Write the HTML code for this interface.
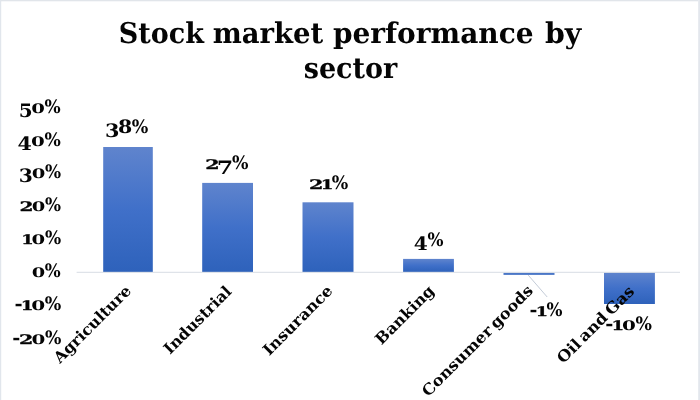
<!DOCTYPE html>
<html lang="en">
<head>
<meta charset="utf-8">
<title>Stock market performance by sector</title>
<style>
  html, body { margin: 0; padding: 0; background: #ffffff; }
  body { width: 700px; height: 400px; overflow: hidden; position: relative; }
  svg { position: absolute; left: 0; top: 0; display: block; }
  text { font-family: "DejaVu Serif", "Liberation Serif", serif; font-weight: bold; fill: #050505; text-rendering: geometricPrecision; }
  .title { font-size: 28.5px; }
  .num { font-size: 18.5px; }
  .os { stroke: #050505; stroke-width: 0.3px; stroke-linejoin: round; }
  .cat { font-size: 15.5px; word-spacing: -2px; }
</style>
</head>
<body>
<svg width="700" height="400" viewBox="0 0 700 400">
  <defs>
    <linearGradient id="bar" x1="0" y1="0" x2="0" y2="1">
      <stop offset="0" stop-color="#5f84cd"/>
      <stop offset="0.5" stop-color="#4070c9"/>
      <stop offset="1" stop-color="#2e62bb"/>
    </linearGradient>
  </defs>
  <rect x="0" y="0" width="700" height="400" fill="#ffffff"/>
  <!-- chart frame -->
  <rect x="0" y="0" width="698.2" height="1.3" fill="#e1e5ea"/>
  <rect x="0" y="0" width="1.2" height="400" fill="#e1e6ec"/>
  <rect x="698.2" y="0" width="1.8" height="400" fill="#e3e7ed"/>

  <!-- title -->
  <text class="title" y="43.3"><tspan id="t_stock" x="118.81" textLength="85.15" lengthAdjust="spacingAndGlyphs">Stock</tspan> <tspan id="t_market" x="212.65" textLength="110.59" lengthAdjust="spacingAndGlyphs">market</tspan> <tspan id="t_perf" x="332.9" textLength="200.7" lengthAdjust="spacingAndGlyphs">performance</tspan> <tspan id="t_by" x="544.93" textLength="36.36" lengthAdjust="spacingAndGlyphs">by</tspan></text>
  <text class="title" y="77.5"><tspan id="t_sector" x="303.76" textLength="93.49" lengthAdjust="spacingAndGlyphs">sector</tspan></text>

  <!-- bars -->
  <rect x="103.2" y="147" width="49.6" height="125" fill="url(#bar)"/>
  <rect x="202.2" y="182.9" width="50.8" height="89.1" fill="url(#bar)"/>
  <rect x="302.5" y="202.3" width="51" height="69.7" fill="url(#bar)"/>
  <rect x="403.1" y="258.9" width="50.8" height="13.1" fill="url(#bar)"/>
  <rect x="503.5" y="272.8" width="51" height="2.1" fill="#4b77c7"/>
  <rect x="604" y="272.6" width="50.9" height="31.4" fill="url(#bar)"/>

  <!-- zero axis line -->
  <rect x="76.6" y="271.8" width="603.4" height="1" fill="#d8dce4"/>

  <!-- leader line for -1% -->
  <line x1="528.2" y1="275.1" x2="547.2" y2="297" stroke="#bcc5d3" stroke-width="0.9"/>

  <!-- value axis labels -->
  <text id="y50" class="num" transform="translate(18.72,112.8) scale(0.9856,1)"><tspan dy="4.29" textLength="14.1" lengthAdjust="spacingAndGlyphs">5</tspan><tspan dx="-1.48" dy="-4.29" font-size="13.23" textLength="13.87" lengthAdjust="spacingAndGlyphs">0</tspan><tspan dx="-0.35" textLength="16.43" lengthAdjust="spacingAndGlyphs">%</tspan></text>
  <text id="y40" class="num" transform="translate(17.55,145.6) scale(0.9944,1)"><tspan dy="4.29" textLength="14.4" lengthAdjust="spacingAndGlyphs">4</tspan><tspan dx="-0.78" dy="-4.29" font-size="13.23" textLength="13.87" lengthAdjust="spacingAndGlyphs">0</tspan><tspan dx="-0.35" textLength="16.43" lengthAdjust="spacingAndGlyphs">%</tspan></text>
  <text id="y30" class="num" transform="translate(18.78,177.7) scale(0.9808,1)"><tspan dy="4.29" textLength="14.37" lengthAdjust="spacingAndGlyphs">3</tspan><tspan dx="-1.26" dy="-4.29" font-size="13.23" textLength="13.87" lengthAdjust="spacingAndGlyphs">0</tspan><tspan dx="-0.35" textLength="16.43" lengthAdjust="spacingAndGlyphs">%</tspan></text>
  <text id="y20" class="num" transform="translate(19.48,210.6) scale(0.9769,1)"><tspan font-size="13.23" class="os" textLength="14.33" lengthAdjust="spacingAndGlyphs">2</tspan><tspan dx="-1.79" font-size="13.23" textLength="13.87" lengthAdjust="spacingAndGlyphs">0</tspan><tspan dx="-0.35" textLength="16.43" lengthAdjust="spacingAndGlyphs">%</tspan></text>
  <text id="y10" class="num" transform="translate(21.27,244) scale(0.9858,1)"><tspan font-size="13.23" class="os" textLength="12.63" lengthAdjust="spacingAndGlyphs">1</tspan><tspan dx="-2.15" font-size="13.23" textLength="13.87" lengthAdjust="spacingAndGlyphs">0</tspan><tspan dx="-0.35" textLength="16.43" lengthAdjust="spacingAndGlyphs">%</tspan></text>
  <text id="y0" class="num" transform="translate(31.71,276.9) scale(0.9709,1)"><tspan font-size="13.23" textLength="13.87" lengthAdjust="spacingAndGlyphs">0</tspan><tspan dx="-0.35" textLength="16.43" lengthAdjust="spacingAndGlyphs">%</tspan></text>
  <text id="ym10" class="num" transform="translate(14.44,309.9) scale(1.0061,1)"><tspan textLength="8.11" lengthAdjust="spacingAndGlyphs">-</tspan><tspan dx="-1.87" font-size="13.23" class="os" textLength="12.63" lengthAdjust="spacingAndGlyphs">1</tspan><tspan dx="-2.15" font-size="13.23" textLength="13.87" lengthAdjust="spacingAndGlyphs">0</tspan><tspan dx="-0.35" textLength="16.43" lengthAdjust="spacingAndGlyphs">%</tspan></text>
  <text id="ym20" class="num" transform="translate(12.25,343.9) scale(0.9986,1)"><tspan textLength="8.11" lengthAdjust="spacingAndGlyphs">-</tspan><tspan dx="-1.44" font-size="13.23" class="os" textLength="14.33" lengthAdjust="spacingAndGlyphs">2</tspan><tspan dx="-1.79" font-size="13.23" textLength="13.87" lengthAdjust="spacingAndGlyphs">0</tspan><tspan dx="-0.35" textLength="16.43" lengthAdjust="spacingAndGlyphs">%</tspan></text>
  <!-- data labels -->
  <text id="d38" class="num" transform="translate(105.03,132.8) scale(1.0074,1)"><tspan dy="4.29" textLength="14.37" lengthAdjust="spacingAndGlyphs">3</tspan><tspan dx="-1.38" dy="-4.29" textLength="14.16" lengthAdjust="spacingAndGlyphs">8</tspan><tspan dx="-0.51" textLength="16.43" lengthAdjust="spacingAndGlyphs">%</tspan></text>
  <text id="d27" class="num" transform="translate(205.14,169.4) scale(1.0039,1)"><tspan font-size="13.23" class="os" textLength="14.33" lengthAdjust="spacingAndGlyphs">2</tspan><tspan dx="-2.72" dy="4.29" textLength="16.42" lengthAdjust="spacingAndGlyphs">7</tspan><tspan dx="-1.37" dy="-4.29" textLength="16.43" lengthAdjust="spacingAndGlyphs">%</tspan></text>
  <text id="d21" class="num" transform="translate(308.92,189) scale(1.0054,1)"><tspan font-size="13.23" class="os" textLength="14.33" lengthAdjust="spacingAndGlyphs">2</tspan><tspan dx="-2.67" font-size="13.23" class="os" textLength="12.63" lengthAdjust="spacingAndGlyphs">1</tspan><tspan dx="-1.63" textLength="16.43" lengthAdjust="spacingAndGlyphs">%</tspan></text>
  <text id="d4" class="num" transform="translate(413.72,245.8) scale(0.9744,1)"><tspan dy="4.29" textLength="14.4" lengthAdjust="spacingAndGlyphs">4</tspan><tspan dx="-0.26" dy="-4.29" textLength="16.43" lengthAdjust="spacingAndGlyphs">%</tspan></text>
  <text id="dm1" class="num" transform="translate(529.61,315.7) scale(0.9741,1)"><tspan textLength="8.11" lengthAdjust="spacingAndGlyphs">-</tspan><tspan dx="-1.87" font-size="13.23" class="os" textLength="12.63" lengthAdjust="spacingAndGlyphs">1</tspan><tspan dx="-1.63" textLength="16.43" lengthAdjust="spacingAndGlyphs">%</tspan></text>
  <text id="dm10" class="num" transform="translate(605.14,329.5) scale(1.0015,1)"><tspan textLength="8.11" lengthAdjust="spacingAndGlyphs">-</tspan><tspan dx="-1.87" font-size="13.23" class="os" textLength="12.63" lengthAdjust="spacingAndGlyphs">1</tspan><tspan dx="-2.15" font-size="13.23" textLength="13.87" lengthAdjust="spacingAndGlyphs">0</tspan><tspan dx="-0.35" textLength="16.43" lengthAdjust="spacingAndGlyphs">%</tspan></text>
  <!-- category labels -->
  <text id="c_agri" class="cat" text-anchor="end" transform="translate(132.25,291.75) rotate(-45)" textLength="102.2" lengthAdjust="spacingAndGlyphs">Agriculture</text>
  <text id="c_ind" class="cat" text-anchor="end" transform="translate(232.5,292.5) rotate(-45)" textLength="88.45" lengthAdjust="spacingAndGlyphs">Industrial</text>
  <text id="c_ins" class="cat" text-anchor="end" transform="translate(333.65,291.75) rotate(-45)" textLength="91.26" lengthAdjust="spacingAndGlyphs">Insurance</text>
  <text id="c_bank" class="cat" text-anchor="end" transform="translate(435.25,291.7) rotate(-45)" textLength="75.94" lengthAdjust="spacingAndGlyphs">Banking</text>
  <text id="c_cons" class="cat" text-anchor="end" transform="translate(534.05,291.6) rotate(-45)" textLength="149.66" lengthAdjust="spacingAndGlyphs">Consumer goods</text>
  <text id="c_oil" class="cat" text-anchor="end" transform="translate(635.2,292.25) rotate(-45)" textLength="101.92" lengthAdjust="spacingAndGlyphs">Oil and Gas</text>
</svg>
</body>
</html>
